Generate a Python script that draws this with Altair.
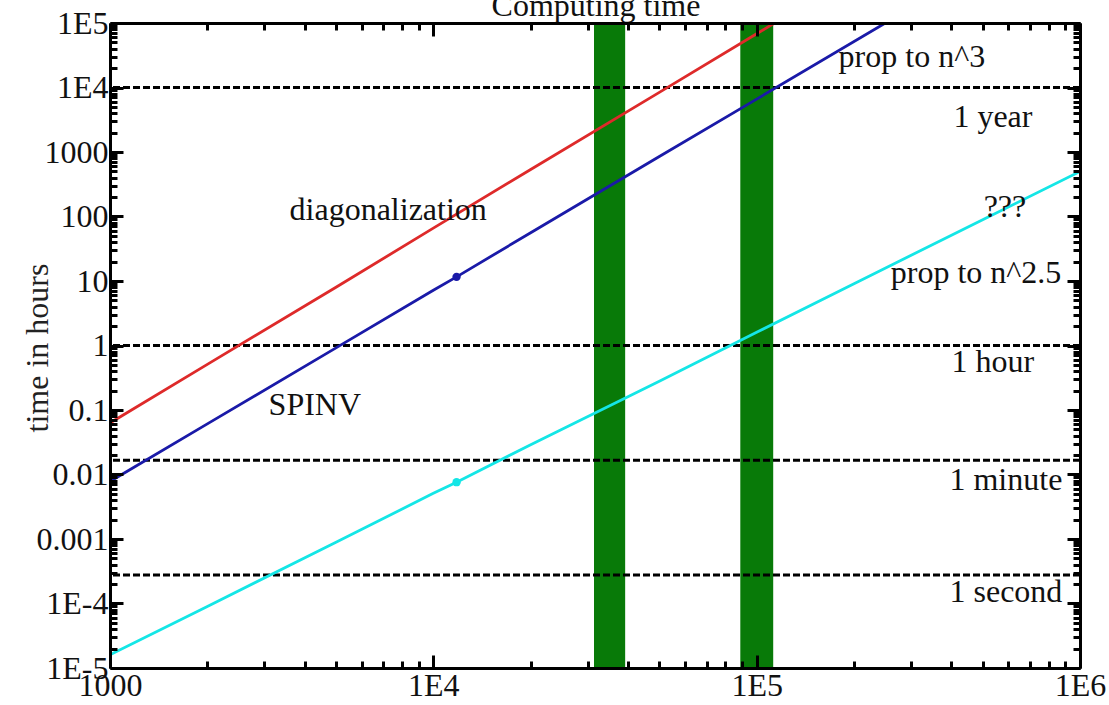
import altair as alt
import pandas as pd

# ---- data ----
red_n = [1000, 2000, 5000, 10000, 20000, 50000, 100000, 120000]
red_t = [0.063, 0.51, 8.0, 66, 535, 8400, 68000, 118000]

blue_n = [1000, 2000, 5000, 10000, 11800, 20000, 50000, 100000, 250000]
blue_t = [0.0078, 0.061, 0.92, 7.2, 11.6, 56, 850, 6600, 100000]

cyan_n = [1000, 2000, 5000, 10000, 11800, 20000, 50000, 100000, 200000, 500000, 1000000]
cyan_t = [1.6e-5, 9.0e-5, 8.9e-4, 5.1e-3, 7.6e-3, 0.029, 0.28, 1.6, 9.1, 89, 500]

dot_n = [11800, 11800]
dot_t = [11.6, 0.0076]
dot_series = ["SPINV", "prop to n^2.5"]

ref_t = [10000, 1.0, 1 / 60, 1 / 3600]          # 1 year, 1 hour, 1 minute, 1 second

band_start = [31400, 89000]
band_end = [39200, 112500]

labels = ["diagonalization", "SPINV", "prop to n^3", "1 year", "???",
          "prop to n^2.5", "1 hour", "1 minute", "1 second"]
label_n = [7250, 4300, 302000, 538000, 586000, 477000, 538000, 590000, 590000]
label_t = [126, 0.12, 29700, 3490, 140, 13.3, 0.555, 0.0082, 1.51e-4]

title_text = ["Computing time"]
title_n = [31850]
title_t = [1.28e5]

x_major = [1000, 10000, 100000, 1000000]
x_major_text = ["1000", "1E4", "1E5", "1E6"]
y_major = [1e-5, 1e-4, 1e-3, 1e-2, 1e-1, 1, 10, 100, 1000, 1e4, 1e5]
y_major_text = ["1E-5", "1E-4", "0.001", "0.01", "0.1", "1", "10", "100", "1000", "1E4", "1E5"]
minor_mult = [2, 3, 4, 5, 6, 7, 8, 9]
x_minor = [m * d for d in x_major[:-1] for m in minor_mult]
y_minor = [m * d for d in y_major[:-1] for m in minor_mult]

# ---- styling ----
FONT = "Liberation Serif"
FS = 32
W, H = 970, 645
MAJ, MIN = 13, 7
xs = alt.Scale(type="log", domain=[1000, 1e6])
ys = alt.Scale(type="log", domain=[1e-5, 1e5])
series_dom = ["diagonalization", "SPINV", "prop to n^2.5"]
series_rng = ["#de2a2a", "#1a1aa8", "#14e6e6"]


def label_expr(vals, texts):
    return "[" + ",".join("'%s'" % t for t in texts) + "][indexof([" + ",".join(repr(float(v)) for v in vals) + "], datum.value)]"


lines_df = pd.DataFrame({
    "n": red_n + blue_n + cyan_n,
    "t": red_t + blue_t + cyan_t,
    "series": ["diagonalization"] * len(red_n) + ["SPINV"] * len(blue_n) + ["prop to n^2.5"] * len(cyan_n),
})
dots_df = pd.DataFrame({"n": dot_n, "t": dot_t, "series": dot_series})
ref_df = pd.DataFrame({"t": ref_t})
band_df = pd.DataFrame({"n0": band_start, "n1": band_end, "lo": [1e-5] * 2, "hi": [1e5] * 2})
text_df = pd.DataFrame({"label": labels, "n": label_n, "t": label_t})
title_df = pd.DataFrame({"label": title_text, "n": title_n, "t": title_t})


def tick_axis(orient, values, size, offset=None, domain=False):
    kw = dict(orient=orient, values=values, labels=False, grid=False, title=None,
              tickSize=size, tickWidth=3, tickColor="black", domain=domain,
              domainWidth=3, domainColor="black", zindex=2, ticks=size > 0)
    if offset is not None:
        kw["offset"] = offset
    return alt.Axis(**kw)


x_label_axis = alt.Axis(orient="bottom", values=x_major, labelExpr=label_expr(x_major, x_major_text),
                        ticks=False, domain=True, domainWidth=3, domainColor="black", grid=False,
                        labelFont=FONT, labelFontSize=FS, labelColor="#111111", labelPadding=2,
                        labelFlush=False, labelOverlap=False, zindex=2)
y_label_axis = alt.Axis(orient="left", values=y_major, labelExpr=label_expr(y_major, y_major_text),
                        ticks=False, domain=True, domainWidth=3, domainColor="black", grid=False,
                        labelFont=FONT, labelFontSize=FS, labelColor="#111111", labelPadding=2,
                        labelFlush=False, labelOverlap=False, zindex=2,
                        title="time in hours", titleFont=FONT, titleFontSize=FS, titleFontWeight="normal",
                        titleColor="#222222", titleAngle=-90, titleAlign="center", titleBaseline="middle",
                        titleX=-73, titleY=H / 2 + 2)

bands = alt.Chart(band_df).mark_rect(color="#087a08").encode(
    x=alt.X("n0:Q", scale=xs, axis=x_label_axis, title=None),
    x2="n1:Q",
    y=alt.Y("lo:Q", scale=ys, axis=y_label_axis),
    y2="hi:Q",
)

refs = alt.Chart(ref_df).mark_rule(color="black", strokeWidth=3, strokeDash=[7, 3]).encode(
    y=alt.Y("t:Q", scale=ys)
)

lines = alt.Chart(lines_df).mark_line(strokeWidth=2.8, clip=True).encode(
    x=alt.X("n:Q", scale=xs),
    y=alt.Y("t:Q", scale=ys),
    color=alt.Color("series:N", scale=alt.Scale(domain=series_dom, range=series_rng), legend=None),
    detail="series:N",
)

dots = alt.Chart(dots_df).mark_point(filled=True, size=70, opacity=1).encode(
    x=alt.X("n:Q", scale=xs),
    y=alt.Y("t:Q", scale=ys),
    color=alt.Color("series:N", scale=alt.Scale(domain=series_dom, range=series_rng), legend=None),
)

texts = alt.Chart(text_df).mark_text(font=FONT, fontSize=FS, color="#111111", align="center",
                                      baseline="middle").encode(
    x=alt.X("n:Q", scale=xs), y=alt.Y("t:Q", scale=ys), text="label:N")

title = alt.Chart(title_df).mark_text(font=FONT, fontSize=FS, color="#111111", align="center",
                                       baseline="alphabetic").encode(
    x=alt.X("n:Q", scale=xs), y=alt.Y("t:Q", scale=ys), text="label:N")

main = alt.layer(bands, refs, lines, dots, texts, title)


def ghost(xa, ya):
    return alt.Chart(lines_df).mark_point(opacity=0, size=1).encode(
        x=alt.X("n:Q", scale=xs, axis=xa),
        y=alt.Y("t:Q", scale=ys, axis=ya),
    )


g1 = ghost(tick_axis("bottom", x_major, MAJ, offset=-MAJ), tick_axis("left", y_major, MAJ, offset=-MAJ))
g2 = ghost(tick_axis("bottom", x_minor, MIN, offset=-MIN), tick_axis("left", y_minor, MIN, offset=-MIN))
g3 = ghost(tick_axis("top", x_major, MAJ, offset=-MAJ), tick_axis("right", y_major, MAJ, offset=-MAJ))
g4 = ghost(tick_axis("top", x_minor, MIN, offset=-MIN), tick_axis("right", y_minor, MIN, offset=-MIN))
g5 = ghost(tick_axis("top", x_major, 0, domain=True), tick_axis("right", y_major, 0, domain=True))

chart = alt.layer(main, g1, g2, g3, g4, g5).resolve_axis(
    x="independent", y="independent"
).properties(
    width=W, height=H,
    autosize=alt.AutoSizeParams(type="none"),
    padding={"left": 110, "top": 23, "right": 29, "bottom": 37},
    background="white",
).configure_view(stroke=None)

chart.save("out.html", embed_options={"renderer": "svg", "actions": False})
